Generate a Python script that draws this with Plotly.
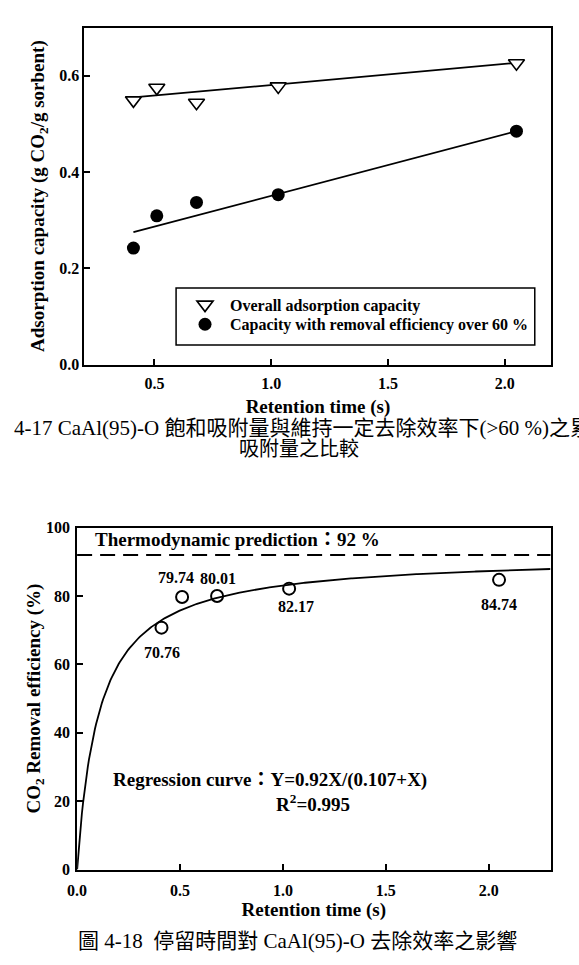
import numpy as np
import plotly.graph_objects as go

# ---------------- data ----------------
# Figure 4-17
retention_top = [0.41, 0.51, 0.68, 1.03, 2.05]
overall_capacity = [0.549, 0.575, 0.544, 0.578, 0.626]
removal60_capacity = [0.242, 0.309, 0.337, 0.353, 0.485]
fit_x = [0.41, 2.05]
overall_fit = [0.555, 0.627]
removal60_fit = [0.275, 0.485]
top_xticks = [0.5, 1.0, 1.5, 2.0]
top_yticks = [0.0, 0.2, 0.4, 0.6]

# Figure 4-18
retention_bot = [0.41, 0.51, 0.68, 1.03, 2.05]
removal_eff = [70.76, 79.74, 80.01, 82.17, 84.74]
thermo_pred = 92
reg_a, reg_b = 0.92, 0.107          # Y = aX/(b+X)
bot_xticks = [0.0, 0.5, 1.0, 1.5, 2.0]
bot_yticks = [0, 20, 40, 60, 80, 100]

# label offsets (px) for point labels
label_dx = [0, -6, 1, 7, 0]
label_dy = [-25, 19, 18, -18, -25]

W, H = 579, 965
SERIF = "Liberation Serif, Times New Roman, serif"
CJK = "Liberation Serif, Noto Sans CJK TC, serif"

fig = go.Figure()

# ---- top chart ----
fig.add_trace(go.Scatter(x=fit_x, y=overall_fit, mode="lines", line=dict(color="black", width=1.8),
                         showlegend=False, hoverinfo="skip", xaxis="x", yaxis="y"))
fig.add_trace(go.Scatter(x=fit_x, y=removal60_fit, mode="lines", line=dict(color="black", width=1.8),
                         showlegend=False, hoverinfo="skip", xaxis="x", yaxis="y"))
fig.add_trace(go.Scatter(x=retention_top, y=overall_capacity, mode="markers",
                         name="Overall adsorption capacity", legend="legend",
                         marker=dict(symbol="triangle-down", size=14, color="white",
                                     line=dict(color="black", width=1.6)),
                         xaxis="x", yaxis="y"))
fig.add_trace(go.Scatter(x=retention_top, y=removal60_capacity, mode="markers",
                         name="Capacity with removal efficiency over 60 %", legend="legend2",
                         marker=dict(symbol="circle", size=13, color="black"),
                         xaxis="x", yaxis="y"))

# ---- bottom chart ----
xc = np.linspace(0, 2.3, 400)
yc = 100 * reg_a * xc / (reg_b + xc)
fig.add_trace(go.Scatter(x=xc, y=yc, mode="lines", line=dict(color="black", width=1.8),
                         showlegend=False, hoverinfo="skip", xaxis="x2", yaxis="y2"))
fig.add_trace(go.Scatter(x=retention_bot, y=removal_eff, mode="markers", showlegend=False,
                         marker=dict(symbol="circle-open", size=12, color="black",
                                     line=dict(color="black", width=2)),
                         xaxis="x2", yaxis="y2"))

annotations = []
for xv, yv, dx, dy in zip(retention_bot, removal_eff, label_dx, label_dy):
    annotations.append(dict(x=xv, y=yv, xref="x2", yref="y2", text=f"{yv:.2f}", showarrow=False,
                            xshift=dx, yshift=dy, font=dict(size=16, family=SERIF, color="black")))

annotations += [
    dict(x=0.034, y=0.965, xref="x2 domain", yref="y2 domain", xanchor="left", yanchor="middle",
         text="Thermodynamic prediction：92 %", showarrow=False,
         font=dict(size=19, family=CJK, color="black")),
    dict(x=0.072, y=0.262, xref="x2 domain", yref="y2 domain", xanchor="left", yanchor="middle",
         text="Regression curve：Y=0.92X/(0.107+X)", showarrow=False,
         font=dict(size=19, family=CJK, color="black")),
    dict(x=0.415, y=0.196, xref="x2 domain", yref="y2 domain", xanchor="left", yanchor="middle",
         text="R<sup>2</sup>=0.995", showarrow=False,
         font=dict(size=19, family=SERIF, color="black")),
    # captions
    dict(x=2 / W, y=1 - 428 / H, xref="paper", yref="paper", xanchor="left", yanchor="middle",
         text="4-17 CaAl(95)-O 飽和吸附量與維持一定去除效率下(>60 %)之累", showarrow=False,
         font=dict(size=21, family=CJK, color="black", weight="normal")),
    dict(x=294 / W, y=1 - 449 / H, xref="paper", yref="paper", xanchor="center", yanchor="middle",
         text="吸附量之比較", showarrow=False,
         font=dict(size=20, family=CJK, color="black", weight="normal")),
    dict(x=293 / W, y=1 - 950 / H, xref="paper", yref="paper", xanchor="center", yanchor="middle",
         text="圖 4-18  停留時間對 CaAl(95)-O 去除效率之影響", showarrow=False,
         font=dict(size=21, family=CJK, color="black", weight="normal")),
]

shapes = [
    dict(type="line", xref="x2 domain", yref="y2", x0=0, x1=1, y0=thermo_pred, y1=thermo_pred,
         line=dict(color="black", width=2, dash="15px,8px")),
    dict(type="rect", xref="paper", yref="paper", x0=169 / W, x1=534 / W, y0=1 - 343 / H, y1=1 - 285 / H,
         line=dict(color="black", width=1.5), fillcolor="rgba(0,0,0,0)"),
]

axis_common = dict(showline=True, linecolor="black", linewidth=1.8, mirror=True, ticks="inside",
                   ticklen=6, tickwidth=1.5, tickcolor="black", showgrid=False, zeroline=False,
                   tickfont=dict(size=16, family=SERIF, color="black"))

legend_common = dict(xanchor="left", yanchor="middle", bgcolor="rgba(0,0,0,0)", borderwidth=0,
                     itemwidth=40, font=dict(size=16, family=SERIF, color="black"))

fig.update_layout(
    width=W, height=H, margin=dict(l=0, r=0, t=0, b=0),
    paper_bgcolor="white", plot_bgcolor="white",
    font=dict(family=SERIF, size=16, color="black", weight="bold"),
    xaxis=dict(domain=[75.7 / W, 551 / W], range=[0.2, 2.2], anchor="y", tickvals=top_xticks,
               tickformat=".1f", ticklabelstandoff=3,
               title=dict(text="Retention time (s)", standoff=9), **axis_common),
    yaxis=dict(domain=[1 - 363 / H, 1 - 20 / H], range=[0, 0.7], anchor="x", tickvals=top_yticks,
               tickformat=".1f", ticklabelstandoff=0,
               title=dict(text="Adsorption capacity (g CO<sub>2</sub>/g sorbent)", standoff=10),
               **axis_common),
    xaxis2=dict(domain=[68.3 / W, 550 / W], range=[0, 2.3], anchor="y2", tickvals=bot_xticks,
                tickformat=".1f", ticklabelstandoff=5,
                title=dict(text="Retention time (s)", standoff=3), **axis_common),
    yaxis2=dict(domain=[1 - 877 / H, 1 - 529 / H], range=[0, 100], anchor="x2", tickvals=bot_yticks,
                ticklabelstandoff=2,
                title=dict(text="CO<sub>2</sub> Removal efficiency (%)", standoff=0), **axis_common),
    legend=dict(x=173 / W, y=1 - 302 / H, **legend_common),
    legend2=dict(x=173 / W, y=1 - 322 / H, **legend_common),
    annotations=annotations, shapes=shapes, showlegend=True,
)

fig.write_html("out.html")
